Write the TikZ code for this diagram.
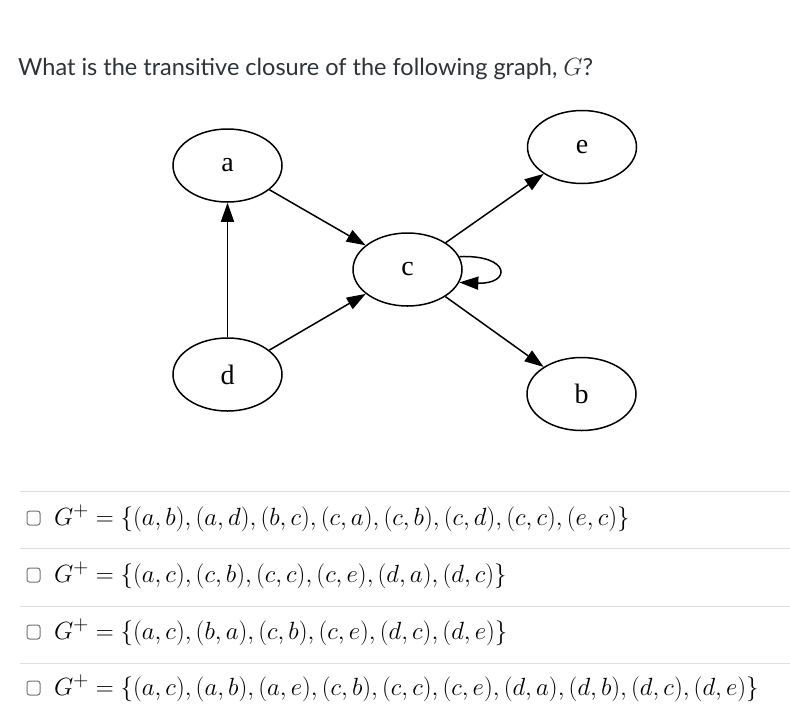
\documentclass[tikz,border=0pt]{standalone}
\usepackage[no-math]{fontspec}
\setmainfont{Lato}
\newfontfamily\gvfont{Liberation Serif}
\usetikzlibrary{arrows.meta,shapes.geometric}
\definecolor{RuleClr}{rgb}{0.87,0.87,0.87}
\definecolor{BoxClr}{rgb}{0.45,0.45,0.45}
\definecolor{TextClr}{rgb}{0.18,0.2,0.22}

\begin{document}
\begin{tikzpicture}[x=1pt,y=-1pt,
  vtx/.style={draw,ellipse,line width=1.5pt,minimum width=109pt,minimum height=73pt,inner sep=0pt,font=\gvfont\fontsize{28}{30}\selectfont},
  edge/.style={line width=1.5pt,-{Triangle[length=19pt,width=13pt]}},
  rule/.style={RuleClr,line width=1pt},
  tick/.style={draw=BoxClr,line width=1pt,rounded corners=2.5pt,minimum width=13pt,minimum height=14pt,inner sep=0pt},
  answer/.style={anchor=west,inner sep=0pt,font=\fontsize{28}{32}\selectfont}]
\fill[white] (0,0) rectangle (790,724);
\useasboundingbox (0,0) rectangle (790,724);

\node[anchor=base west,inner sep=0pt,text=TextClr,font=\fontsize{23.5}{28}\selectfont] (question) at (18,75) {What is the transitive closure of the following graph, $G$?};

\node[vtx] (a) at (227.5,165.5) {a};
\node[vtx] (c) at (407.5,269.5) {c};
\node[vtx] (d) at (227.5,374.5) {d};
\node[vtx] (e) at (582,147) {e};
\node[vtx] (b) at (581.5,394) {b};

\draw[edge] (d) -- (a);
\draw[edge] (a) -- (c);
\draw[edge] (d) -- (c);
\draw[edge] (c) -- (e);
\draw[edge] (c) -- (b);
\draw[edge] (c.14) .. controls +(52,-2) and +(52,2) .. (c.-14);

\coordinate (r1) at (20,491);
\coordinate (r2) at (20,548);
\coordinate (r3) at (20,606);
\coordinate (r4) at (20,663);
\foreach \r in {r1,r2,r3,r4}
  \draw[rule] (\r) -- ++(770,0);

\node[tick] (box1) at (33.5,518) {};
\node[tick] (box2) at (33.5,575) {};
\node[tick] (box3) at (33.5,632) {};
\node[tick] (box4) at (33.5,688) {};

\node[answer] (ans1) at (54,518) {$G^+=\{(a,b),(a,d),(b,c),(c,a),(c,b),(c,d),(c,c),(e,c)\}$};
\node[answer] (ans2) at (54,575) {$G^+=\{(a,c),(c,b),(c,c),(c,e),(d,a),(d,c)\}$};
\node[answer] (ans3) at (54,632) {$G^+=\{(a,c),(b,a),(c,b),(c,e),(d,c),(d,e)\}$};
\node[answer] (ans4) at (54,688) {$G^+=\{(a,c),(a,b),(a,e),(c,b),(c,c),(c,e),(d,a),(d,b),(d,c),(d,e)\}$};

\end{tikzpicture}
\end{document}
